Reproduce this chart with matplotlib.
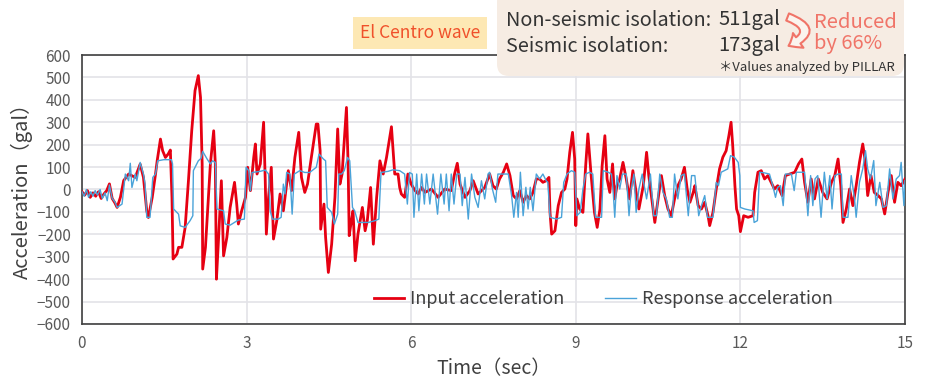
import matplotlib.pyplot as plt
from matplotlib.patches import FancyBboxPatch, FancyArrowPatch
import numpy as np

plt.rcParams['font.family'] = ['Noto Sans CJK JP', 'DejaVu Sans']

# El Centro wave, input acceleration (gal)
t_input = [0.00, 0.05, 0.10, 0.15, 0.20, 0.25, 0.30, 0.35, 0.40, 0.45, 0.50, 0.55, 0.60, 0.64,
           0.70, 0.76, 0.85, 0.97, 1.06, 1.12, 1.18, 1.21, 1.28, 1.34, 1.37, 1.43, 1.47, 1.52,
           1.57, 1.61, 1.64, 1.66, 1.73, 1.76, 1.82, 1.88, 1.94, 2.00, 2.06, 2.12, 2.16, 2.19,
           2.20, 2.25, 2.34, 2.40, 2.43, 2.45, 2.49, 2.54, 2.58, 2.64, 2.70, 2.78, 2.82, 2.85,
           2.91, 2.98, 3.02, 3.07, 3.13, 3.16, 3.19, 3.25, 3.31, 3.34, 3.36, 3.40, 3.45, 3.49,
           3.55, 3.61, 3.67, 3.76, 3.82, 3.88, 3.95, 4.00, 4.06, 4.11, 4.18, 4.27, 4.30, 4.34,
           4.35, 4.41, 4.44, 4.49, 4.55, 4.61, 4.66, 4.70, 4.74, 4.82, 4.85, 4.87, 4.91, 4.94,
           4.98, 5.03, 5.11, 5.16, 5.20, 5.26, 5.31, 5.37, 5.43, 5.49, 5.55, 5.64, 5.70, 5.76,
           5.79, 5.82, 5.88, 5.94, 6.00, 6.07, 6.13, 6.19, 6.25, 6.37, 6.49, 6.61, 6.73, 6.79,
           6.84, 6.89, 6.98, 7.07, 7.13, 7.22, 7.34, 7.43, 7.49, 7.55, 7.61, 7.68, 7.74, 7.80,
           7.86, 7.92, 7.98, 8.04, 8.10, 8.16, 8.22, 8.28, 8.34, 8.40, 8.46, 8.51, 8.53, 8.56,
           8.62, 8.68, 8.74, 8.80, 8.84, 8.89, 8.94, 8.98, 9.00, 9.02, 9.07, 9.13, 9.18, 9.22,
           9.28, 9.34, 9.39, 9.44, 9.48, 9.53, 9.57, 9.62, 9.67, 9.71, 9.75, 9.80, 9.86, 9.92,
           9.98, 10.04, 10.10, 10.15, 10.23, 10.29, 10.33, 10.40, 10.44, 10.50, 10.56, 10.62,
           10.68, 10.74, 10.80, 10.86, 10.92, 10.98, 11.03, 11.08, 11.14, 11.17, 11.23, 11.29,
           11.35, 11.41, 11.44, 11.50, 11.56, 11.62, 11.68, 11.74, 11.79, 11.83, 11.86, 11.90,
           11.93, 11.97, 12.00, 12.06, 12.14, 12.23, 12.26, 12.32, 12.38, 12.44, 12.50, 12.56,
           12.62, 12.68, 12.76, 12.82, 12.90, 12.99, 13.06, 13.12, 13.17, 13.23, 13.29, 13.35,
           13.42, 13.50, 13.58, 13.66, 13.72, 13.78, 13.83, 13.87, 13.93, 13.99, 14.05, 14.11,
           14.17, 14.23, 14.27, 14.32, 14.38, 14.44, 14.51, 14.57, 14.63, 14.69, 14.75, 14.81,
           14.87, 14.93, 15.00]
a_input = [-10, -25, -5, -35, -15, -30, -10, -40, -20, -5, 25, -40, -60, -80,
           -35, 40, 69, 54, 113, 54, -95, -125, -35, 69, 128, 225, 173, 143,
           158, 176, -35, -310, -288, -258, -258, -169, 39, 262, 441, 508, 411, 114,
           -355, -258, 114, 262, 114, -400, -214, 39, -296, -214, -80, 32, -65, -154,
           -95, -35, 99, -5, 143, 203, 69, 114, 300, 39, -199, -35, 99, -221,
           -139, -20, -95, 84, -5, 143, 255, 54, -13, 24, 143, 292, 292, 173,
           -177, -65, -214, -370, -244, -35, 270, 24, 69, 366, 114, -206, -139, -95,
           -318, -199, -80, -184, -139, 9, -244, -35, 128, 69, 143, 280, 69, 69,
           9, -20, -35, 69, 24, -5, -20, 9, -13, 2, -35, 2, -5, 69,
           117, 24, -35, -5, 39, -20, 9, 69, 17, 2, 47, 77, 114, 62,
           -27, -42, -5, -57, -27, -42, -13, 47, 47, 32, 39, 54, -102, -199,
           -184, -72, -13, 2, 47, 166, 255, 136, -161, -42, -87, -102, 106, 248,
           62, -102, -169, -87, 106, 240, 47, -13, 114, -42, 17, 47, 121, 47,
           -42, 84, -13, -87, 17, 166, 62, -72, -147, -42, 62, -27,
           -87, -117, -42, 17, 47, 99, 2, -57, -13, 17, -72, -87,
           -57, -117, -161, -102, 2, 92, 144, 173, 240, 300, 196, 17,
           -87, -117, -188, -117, -124, -117, -13, 77, 84, 47, 62, 32,
           2, 17, -27, 62, 69, 77, 114, 136, 32, -57, 47, -42,
           47, -13, -42, 32, 62, 136, 17, -147, -87, 2, -72, 17,
           121, 203, 136, -27, 62, -13, -27, -42, -109, -13, 62, -57,
           32, 17, 47]

# response acceleration with seismic isolation (gal)
t_resp = [0.00, 0.04, 0.08, 0.12, 0.16, 0.20, 0.24, 0.28, 0.33, 0.37, 0.42, 0.46, 0.50, 0.55,
          0.60, 0.64, 0.73, 0.79, 0.85, 0.88, 0.91, 0.97, 1.00, 1.06, 1.12, 1.15, 1.18, 1.24,
          1.29, 1.34, 1.38, 1.49, 1.63, 1.65, 1.67, 1.76, 1.79, 1.88, 1.97, 2.02, 2.03, 2.12,
          2.17, 2.20, 2.28, 2.34, 2.38, 2.43, 2.46, 2.58, 2.61, 2.70, 2.85, 2.96, 2.99, 3.04,
          3.07, 3.10, 3.25, 3.34, 3.40, 3.43, 3.47, 3.58, 3.63, 3.67, 3.70, 3.73, 3.79, 3.83,
          3.87, 3.97, 4.06, 4.15, 4.27, 4.32, 4.40, 4.44, 4.47, 4.55, 4.60, 4.66, 4.68, 4.73,
          4.78, 4.84, 4.88, 4.93, 4.97, 5.03, 5.22, 5.34, 5.41, 5.45, 5.58, 5.67, 5.79, 5.88,
          5.93, 5.97, 6.02, 6.05, 6.10, 6.14, 6.19, 6.24, 6.28, 6.34, 6.40, 6.48, 6.54, 6.60,
          6.64, 6.69, 6.73, 6.78, 6.83, 6.89, 6.93, 6.98, 7.04, 7.10, 7.16, 7.22, 7.28, 7.34,
          7.40, 7.43, 7.48, 7.54, 7.58, 7.68, 7.77, 7.83, 7.87, 7.92, 7.95, 7.99, 8.04, 8.09,
          8.13, 8.17, 8.22, 8.28, 8.34, 8.40, 8.46, 8.49, 8.53, 8.65, 8.74, 8.78, 8.84, 8.92,
          8.98, 9.02, 9.08, 9.13, 9.18, 9.25, 9.31, 9.36, 9.47, 9.50, 9.59, 9.65, 9.68, 9.71,
          9.75, 9.80, 9.85, 9.92, 9.97, 10.01, 10.06, 10.10, 10.15, 10.21, 10.29, 10.36, 10.42,
          10.47, 10.53, 10.59, 10.65, 10.71, 10.76, 10.80, 10.86, 10.92, 10.98, 11.05, 11.11,
          11.17, 11.21, 11.24, 11.29, 11.35, 11.40, 11.50, 11.56, 11.60, 11.65, 11.77, 11.82,
          11.89, 11.96, 11.99, 12.00, 12.08, 12.23, 12.25, 12.31, 12.35, 12.44, 12.53, 12.59,
          12.64, 12.68, 12.73, 12.78, 12.82, 12.93, 12.98, 13.02, 13.17, 13.23, 13.28, 13.32,
          13.36, 13.41, 13.47, 13.53, 13.58, 13.63, 13.67, 13.72, 13.78, 13.84, 13.87, 13.96,
          14.02, 14.08, 14.11, 14.17, 14.23, 14.28, 14.32, 14.37, 14.43, 14.47, 14.54, 14.60,
          14.66, 14.72, 14.78, 14.84, 14.90, 14.93, 14.98, 15.00]
a_resp = [-10, -30, 0, -35, -10, -30, -5, -25, 0, -40, -15, -50, 20, -40,
          -55, -80, -65, 69, 39, 117, 9, 69, 39, 121, 69, 24, -124, -124,
          54, 69, 128, 133, 133, 114, -87, -110, -162, -169, -139, -117, 84, 128,
          139, 170, 136, 114, 128, 121, -87, -95, -154, -159, -136, -132, 99, 84,
          -5, 76, 81, 87, 69, -95, -132, -132, -124, 24, -20, 76, 69, -110,
          69, 84, 76, 76, 99, 158, 136, 128, -80, -102, -154, -110, 69, 69,
          84, 143, 128, -80, -95, -147, -147, -139, -132, 76, 81, 88, 84, 69,
          -65, 76, 69, -124, 69, -95, 69, -65, 69, -65, 69, -110, 69, -65,
          69, -95, 69, -65, 69, 69, -72, 54, -132, 69, -35, -80, 39, -42,
          69, 77, 2, -57, 69, 69, 69, -27, -124, -13, -124, 77, -117, 10,
          -87, 10, -95, 69, 47, 69, 39, 32, -124, -132, -124, 32, 69, 84,
          77, -117, -102, 2, 69, 77, 69, -124, -124, 84, 77, 69, -5, -124,
          62, 2, 69, 69, -117, 2, 69, -102, 2, 69, -42, 69, -117,
          -117, 69, -13, -42, -124, -124, 69, -42, 62, 69, -117, 62,
          62, -42, -117, -72, -27, -124, -124, 32, 17, 77, 92, 151,
          144, 121, 62, -80, -87, -95, -147, -139, 77, 74, 69, 17,
          -35, 10, 17, -72, 69, 69, -5, 77, 77, -117, 62, -72,
          47, 62, -124, 77, -42, 62, -87, 62, 69, 69, -124, -124,
          62, -42, -124, 32, 92, 173, 92, 47, 129, -72, 32, -80,
          -72, 92, -42, 47, 62, 121, -72, 40]

x_ticks = [0, 3, 6, 9, 12, 15]
y_ticks = list(range(-600, 601, 100))

W, H = 928, 378


def fx(px):
    return px / W


def fy(py):
    return 1 - py / H


fig = plt.figure(figsize=(W / 100, H / 100), dpi=100)
ax = fig.add_axes([fx(82), fy(324), fx(905) - fx(82), fy(55) - fy(324)])

ax.plot(t_input, a_input, color='#e60012', lw=2.0, label='Input acceleration', zorder=3)
ax.plot(t_resp, a_resp, color='#4aa3d9', lw=1.0, label='Response acceleration', zorder=4)

ax.set_xlim(0, 15)
ax.set_ylim(-600, 600)
ax.set_xticks(x_ticks)
ax.set_yticks(y_ticks)
ax.grid(True, color='#e3e3e8', lw=1.2, zorder=0)
ax.set_axisbelow(True)
ax.tick_params(length=0, labelsize=11, labelcolor='#595959')
ax.tick_params(axis='x', pad=8)
ax.tick_params(axis='y', pad=8)
for s in ax.spines.values():
    s.set_color('#404040')
    s.set_linewidth(1.2)

ax.set_xlabel('Time（sec）', fontsize=14, color='#404040', labelpad=4)
ax.set_ylabel('Acceleration（gal）', fontsize=14.5, color='#404040')
ax.yaxis.set_label_coords(-0.06, 0.515)

ax.legend(loc='center', bbox_to_anchor=(0.633, 0.093), ncol=2, frameon=False,
          fontsize=13, handlelength=1.7, handletextpad=0.3, columnspacing=2.3,
          labelcolor='#404040')

# El Centro label
fig.text(fx(420), fy(33), 'El Centro wave', fontsize=12.5, color='#f0502a',
         ha='center', va='center',
         bbox=dict(boxstyle='square,pad=0.4', fc='#fde8b4', ec='none'))

# result box
box = FancyBboxPatch((fx(497), fy(76)), fx(904) - fx(497), fy(-10) - fy(76),
                     boxstyle='round,pad=0,rounding_size=0.013',
                     mutation_aspect=W / H,
                     transform=fig.transFigure, fc='#f6ece3', ec='none', zorder=5)
fig.add_artist(box)

fig.text(fx(506), fy(20), 'Non-seismic isolation:', fontsize=14.3, color='#333333',
         ha='left', va='center', zorder=6)
fig.text(fx(780), fy(20), '511gal', fontsize=14.5, color='#333333',
         ha='right', va='center', zorder=6)
fig.text(fx(506), fy(46), 'Seismic isolation:', fontsize=14.3, color='#333333',
         ha='left', va='center', zorder=6)
fig.text(fx(780), fy(46), '173gal', fontsize=14.5, color='#333333',
         ha='right', va='center', zorder=6)
fig.text(fx(814), fy(33), 'Reduced\nby 66%', fontsize=14.5, color='#f07468',
         ha='left', va='center', linespacing=1.05, zorder=6)
fig.text(fx(895), fy(67), '＊Values analyzed by PILLAR', fontsize=9.5, color='#333333',
         ha='right', va='center', zorder=6)

arrow = FancyArrowPatch((fx(785), fy(16)), (fx(786), fy(47)),
                        transform=fig.transFigure,
                        connectionstyle='arc3,rad=-1.25',
                        arrowstyle='simple,head_width=13,head_length=8,tail_width=5.5',
                        fc='#fbf4ee', ec='#f07468', lw=1.5, zorder=6)
fig.add_artist(arrow)

fig.savefig('out.png', dpi=100)
